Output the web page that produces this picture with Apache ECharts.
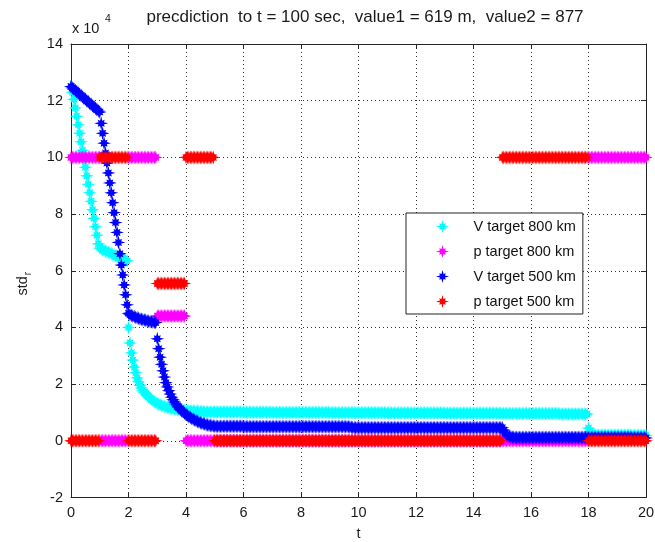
<!DOCTYPE html>
<html><head><meta charset="utf-8">
<script src="https://cdn.jsdelivr.net/npm/echarts@6/dist/echarts.min.js"></script>
<style>html,body{margin:0;padding:0;background:#fff}#c{width:655px;height:542px}</style>
</head><body><div id="c"></div>
<script>
// ---- chart data (values in units of 10^4), sampled every 0.05 s, one line per second ----
const titleText = 'precdiction  to t = 100 sec,  value1 = 619 m,  value2 = 877';
const seriesNames = ['V target 800 km', 'p target 800 km', 'V target 500 km', 'p target 500 km'];
const xTicks = [0, 2, 4, 6, 8, 10, 12, 14, 16, 18, 20];
const yTicks = [-2, 0, 2, 4, 6, 8, 10, 12, 14];
const dt = 0.05;

const vTarget800 = [
12.5,12.3,12.05,11.75,11.45,11.15,10.85,10.55,10.25,9.95,9.65,9.35,9.05,8.75,8.45,8.15,7.85,7.55,7.25,6.95,
6.8,6.77,6.75,6.72,6.7,6.68,6.65,6.63,6.6,6.58,6.55,6.53,6.5,6.48,6.46,6.44,6.42,6.4,6.37,6.35,
4.0,3.45,3.1,2.85,2.6,2.4,2.22,2.08,1.96,1.86,1.78,1.71,1.65,1.6,1.55,1.5,1.46,1.42,1.38,1.35,
1.32,1.3,1.27,1.25,1.23,1.21,1.2,1.18,1.17,1.15,1.14,1.13,1.12,1.11,1.1,1.1,1.09,1.08,1.08,1.07,
1.07,1.06,1.06,1.05,1.05,1.05,1.04,1.04,1.04,1.03,1.03,1.03,1.03,1.02,1.02,1.02,1.02,1.02,1.02,1.02,
1.02,1.02,1.02,1.02,1.02,1.02,1.02,1.02,1.02,1.02,1.02,1.02,1.02,1.02,1.02,1.02,1.02,1.02,1.02,1.02,
1.01,1.01,1.01,1.01,1.01,1.01,1.01,1.01,1.01,1.01,1.01,1.01,1.01,1.01,1.01,1.01,1.01,1.01,1.01,1.01,
1.0,1.0,1.0,1.0,1.0,1.0,1.0,1.0,1.0,1.0,1.0,1.0,1.0,1.0,1.0,1.0,1.0,1.0,1.0,1.0,
1.0,1.0,1.0,1.0,1.0,1.0,1.0,1.0,1.0,1.0,1.0,1.0,1.0,1.0,1.0,1.0,1.0,1.0,1.0,1.0,
0.99,0.99,0.99,0.99,0.99,0.99,0.99,0.99,0.99,0.99,0.99,0.99,0.99,0.99,0.99,0.99,0.99,0.99,0.99,0.99,
0.99,0.99,0.99,0.99,0.99,0.99,0.99,0.99,0.99,0.99,0.99,0.99,0.99,0.99,0.99,0.99,0.99,0.99,0.99,0.99,
0.98,0.98,0.98,0.98,0.98,0.98,0.98,0.98,0.98,0.98,0.98,0.98,0.98,0.98,0.98,0.98,0.98,0.98,0.98,0.98,
0.98,0.98,0.98,0.98,0.98,0.98,0.98,0.98,0.98,0.98,0.98,0.98,0.98,0.98,0.98,0.98,0.98,0.98,0.98,0.98,
0.97,0.97,0.97,0.97,0.97,0.97,0.97,0.97,0.97,0.97,0.97,0.97,0.97,0.97,0.97,0.97,0.97,0.97,0.97,0.97,
0.97,0.97,0.97,0.97,0.97,0.97,0.97,0.97,0.97,0.97,0.97,0.97,0.97,0.97,0.97,0.97,0.97,0.97,0.97,0.97,
0.96,0.96,0.96,0.96,0.96,0.96,0.96,0.96,0.96,0.96,0.96,0.96,0.96,0.96,0.96,0.96,0.96,0.96,0.96,0.96,
0.96,0.96,0.96,0.96,0.96,0.96,0.96,0.96,0.96,0.96,0.96,0.96,0.96,0.96,0.96,0.96,0.96,0.96,0.96,0.96,
0.95,0.95,0.95,0.95,0.95,0.95,0.95,0.95,0.95,0.95,0.95,0.95,0.95,0.95,0.95,0.95,0.95,0.95,0.95,0.95,
0.45,0.32,0.26,0.23,0.21,0.2,0.2,0.2,0.2,0.2,0.2,0.2,0.2,0.2,0.2,0.2,0.2,0.2,0.2,0.2,
0.2,0.2,0.2,0.2,0.2,0.2,0.2,0.2,0.2,0.2,0.19,0.19,0.19,0.19,0.19,0.19,0.19,0.19,0.19,0.19,
0.19
];

const pTarget800 = [
10,10,10,10,10,10,10,10,10,10,10,10,10,10,10,10,10,10,10,10,
0,0,0,0,0,0,0,0,0,0,0,0,0,0,0,0,0,0,0,0,
10,10,10,10,10,10,10,10,10,10,10,10,10,10,10,10,10,10,10,10,
4.4,4.4,4.4,4.4,4.4,4.4,4.4,4.4,4.4,4.4,4.4,4.4,4.4,4.4,4.4,4.4,4.4,4.4,4.4,4.4,
0,0,0,0,0,0,0,0,0,0,0,0,0,0,0,0,0,0,0,0,
0,0,0,0,0,0,0,0,0,0,0,0,0,0,0,0,0,0,0,0,
0,0,0,0,0,0,0,0,0,0,0,0,0,0,0,0,0,0,0,0,
0,0,0,0,0,0,0,0,0,0,0,0,0,0,0,0,0,0,0,0,
0,0,0,0,0,0,0,0,0,0,0,0,0,0,0,0,0,0,0,0,
0,0,0,0,0,0,0,0,0,0,0,0,0,0,0,0,0,0,0,0,
0,0,0,0,0,0,0,0,0,0,0,0,0,0,0,0,0,0,0,0,
0,0,0,0,0,0,0,0,0,0,0,0,0,0,0,0,0,0,0,0,
0,0,0,0,0,0,0,0,0,0,0,0,0,0,0,0,0,0,0,0,
0,0,0,0,0,0,0,0,0,0,0,0,0,0,0,0,0,0,0,0,
0,0,0,0,0,0,0,0,0,0,0,0,0,0,0,0,0,0,0,0,
0,0,0,0,0,0,0,0,0,0,0,0,0,0,0,0,0,0,0,0,
0,0,0,0,0,0,0,0,0,0,0,0,0,0,0,0,0,0,0,0,
0,0,0,0,0,0,0,0,0,0,0,0,0,0,0,0,0,0,0,0,
10,10,10,10,10,10,10,10,10,10,10,10,10,10,10,10,10,10,10,10,
10,10,10,10,10,10,10,10,10,10,10,10,10,10,10,10,10,10,10,10,
10
];

const vTarget500 = [
12.5,12.45,12.41,12.36,12.32,12.27,12.23,12.18,12.14,12.09,12.05,12.0,11.96,11.91,11.87,11.82,11.78,11.73,11.69,11.64,
11.6,11.2,10.85,10.5,10.15,9.8,9.45,9.1,8.75,8.4,8.05,7.7,7.35,7.0,6.6,6.2,5.85,5.5,5.15,4.8,
4.5,4.45,4.42,4.4,4.38,4.36,4.34,4.32,4.3,4.29,4.27,4.26,4.25,4.23,4.22,4.21,4.2,4.19,4.18,4.17,
3.6,3.25,2.95,2.7,2.47,2.25,2.05,1.9,1.77,1.65,1.54,1.45,1.37,1.3,1.23,1.17,1.11,1.06,1.02,0.97,
0.93,0.89,0.85,0.82,0.79,0.76,0.73,0.71,0.68,0.66,0.64,0.62,0.6,0.59,0.57,0.56,0.55,0.54,0.53,0.52,
0.51,0.51,0.51,0.51,0.51,0.51,0.51,0.51,0.51,0.51,0.51,0.51,0.51,0.51,0.51,0.51,0.51,0.51,0.51,0.51,
0.5,0.5,0.5,0.5,0.5,0.5,0.5,0.5,0.5,0.5,0.5,0.5,0.5,0.5,0.5,0.5,0.5,0.5,0.5,0.5,
0.5,0.5,0.5,0.5,0.5,0.5,0.5,0.5,0.5,0.5,0.5,0.5,0.5,0.5,0.5,0.5,0.5,0.5,0.5,0.5,
0.5,0.5,0.5,0.5,0.5,0.5,0.5,0.5,0.5,0.5,0.5,0.5,0.5,0.5,0.5,0.5,0.5,0.5,0.5,0.5,
0.5,0.5,0.5,0.5,0.5,0.5,0.5,0.5,0.5,0.5,0.5,0.5,0.5,0.5,0.49,0.48,0.47,0.46,0.46,0.46,
0.46,0.46,0.46,0.46,0.46,0.46,0.46,0.46,0.46,0.46,0.46,0.46,0.46,0.46,0.46,0.46,0.46,0.46,0.46,0.46,
0.46,0.46,0.46,0.46,0.46,0.46,0.46,0.46,0.46,0.46,0.46,0.46,0.46,0.46,0.46,0.46,0.46,0.46,0.46,0.46,
0.46,0.46,0.46,0.46,0.46,0.46,0.46,0.46,0.46,0.46,0.46,0.46,0.46,0.46,0.46,0.46,0.46,0.46,0.46,0.46,
0.46,0.46,0.46,0.46,0.46,0.46,0.46,0.46,0.46,0.46,0.46,0.46,0.46,0.46,0.46,0.46,0.46,0.46,0.46,0.46,
0.46,0.46,0.46,0.46,0.46,0.46,0.46,0.46,0.46,0.46,0.46,0.46,0.46,0.46,0.46,0.46,0.46,0.46,0.46,0.46,
0.46,0.38,0.28,0.21,0.17,0.15,0.14,0.13,0.13,0.12,0.12,0.12,0.12,0.12,0.12,0.12,0.12,0.12,0.12,0.12,
0.12,0.12,0.12,0.12,0.12,0.12,0.12,0.12,0.12,0.12,0.12,0.12,0.12,0.12,0.12,0.12,0.12,0.12,0.12,0.12,
0.12,0.12,0.12,0.12,0.12,0.12,0.12,0.12,0.12,0.12,0.12,0.12,0.12,0.12,0.12,0.12,0.12,0.12,0.12,0.12,
0.11,0.11,0.11,0.11,0.11,0.11,0.11,0.11,0.11,0.11,0.11,0.11,0.11,0.11,0.11,0.11,0.11,0.11,0.11,0.11,
0.11,0.11,0.11,0.11,0.11,0.11,0.11,0.11,0.11,0.11,0.1,0.1,0.1,0.1,0.1,0.1,0.1,0.1,0.1,0.1,
0.1
];

const pTarget500 = [
0,0,0,0,0,0,0,0,0,0,0,0,0,0,0,0,0,0,0,0,
10,10,10,10,10,10,10,10,10,10,10,10,10,10,10,10,10,10,10,10,
0,0,0,0,0,0,0,0,0,0,0,0,0,0,0,0,0,0,0,0,
5.55,5.55,5.55,5.55,5.55,5.55,5.55,5.55,5.55,5.55,5.55,5.55,5.55,5.55,5.55,5.55,5.55,5.55,5.55,5.55,
10,10,10,10,10,10,10,10,10,10,10,10,10,10,10,10,10,10,10,10,
0,0,0,0,0,0,0,0,0,0,0,0,0,0,0,0,0,0,0,0,
0,0,0,0,0,0,0,0,0,0,0,0,0,0,0,0,0,0,0,0,
0,0,0,0,0,0,0,0,0,0,0,0,0,0,0,0,0,0,0,0,
0,0,0,0,0,0,0,0,0,0,0,0,0,0,0,0,0,0,0,0,
0,0,0,0,0,0,0,0,0,0,0,0,0,0,0,0,0,0,0,0,
0,0,0,0,0,0,0,0,0,0,0,0,0,0,0,0,0,0,0,0,
0,0,0,0,0,0,0,0,0,0,0,0,0,0,0,0,0,0,0,0,
0,0,0,0,0,0,0,0,0,0,0,0,0,0,0,0,0,0,0,0,
0,0,0,0,0,0,0,0,0,0,0,0,0,0,0,0,0,0,0,0,
0,0,0,0,0,0,0,0,0,0,0,0,0,0,0,0,0,0,0,0,
10,10,10,10,10,10,10,10,10,10,10,10,10,10,10,10,10,10,10,10,
10,10,10,10,10,10,10,10,10,10,10,10,10,10,10,10,10,10,10,10,
10,10,10,10,10,10,10,10,10,10,10,10,10,10,10,10,10,10,10,10,
0,0,0,0,0,0,0,0,0,0,0,0,0,0,0,0,0,0,0,0,
0,0,0,0,0,0,0,0,0,0,0,0,0,0,0,0,0,0,0,0,
0
];

// ---- rendering ----
const FONT = '"Liberation Sans", Arial, Helvetica, sans-serif';
const colors = ['#00ffff', '#ff00ff', '#0000ff', '#ff0000'];
const axisColor = '#262626';
const star = 'path://M10,0L3.9,1.6L5,5L1.6,3.9L0,10L-1.6,3.9L-5,5L-3.9,1.6L-10,0L-3.9,-1.6L-5,-5L-1.6,-3.9L0,-10L1.6,-3.9L5,-5L3.9,-1.6Z';
const seriesValues = [vTarget800, pTarget800, vTarget500, pTarget500];

function pairs(arr) { return arr.map((v, i) => [+(i * dt).toFixed(2), v]); }

function axisX(pos, main) {
  return {
    type: 'value', min: xTicks[0], max: xTicks[xTicks.length - 1], interval: 2, position: pos,
    axisLine: { show: true, onZero: false, lineStyle: { color: axisColor, width: 1 } },
    axisTick: { show: true, inside: true, length: 5, lineStyle: { color: axisColor } },
    axisLabel: { show: main, color: '#1a1a1a', fontSize: 14.5, fontFamily: FONT, margin: 8 },
    splitLine: { show: main, lineStyle: { color: '#333', type: [1, 3], width: 1 } },
    name: main ? 't' : '', nameLocation: 'middle', nameGap: 29,
    nameTextStyle: { color: '#1a1a1a', fontSize: 14.5, fontFamily: FONT }
  };
}
function axisY(pos, main) {
  return {
    type: 'value', min: yTicks[0], max: yTicks[yTicks.length - 1], interval: 2, position: pos,
    axisLine: { show: true, onZero: false, lineStyle: { color: axisColor, width: 1 } },
    axisTick: { show: true, inside: true, length: 5, lineStyle: { color: axisColor } },
    axisLabel: { show: main, color: '#1a1a1a', fontSize: 14.5, fontFamily: FONT, margin: 8 },
    splitLine: { show: main, lineStyle: { color: '#333', type: [1, 3], width: 1 } },
    name: main ? '{a|std}{b|r}' : '', nameLocation: 'middle', nameRotate: 90, nameGap: 38,
    nameTextStyle: {
      color: '#1a1a1a', fontFamily: FONT, padding: [0, 26, 0, 0],
      rich: {
        a: { fontSize: 14.5, fontFamily: FONT, color: '#1a1a1a', lineHeight: 18, verticalAlign: 'top' },
        b: { fontSize: 10, fontFamily: FONT, color: '#1a1a1a', lineHeight: 12, padding: [9, 0, 0, 1], verticalAlign: 'bottom' }
      }
    }
  };
}

const chart = echarts.init(document.getElementById('c'), null, { renderer: 'canvas' });
chart.setOption({
  animation: false,
  backgroundColor: '#fff',
  grid: { left: 71, right: 9, top: 44, bottom: 44.5, containLabel: false, outerBoundsMode: 'none' },
  xAxis: [axisX('bottom', true), axisX('top', false)],
  yAxis: [axisY('left', true), axisY('right', false)],
  legend: {
    orient: 'vertical', left: 406, top: 213, selectedMode: false,
    backgroundColor: '#fff', borderColor: '#222', borderWidth: 1,
    padding: [5, 7, 4, 30], itemGap: 8, itemWidth: 52, itemHeight: 13,
    textStyle: { fontSize: 14.5, color: '#111', fontFamily: FONT, lineHeight: 17 },
    data: seriesNames.map(n => ({ name: n, icon: star }))
  },
  graphic: [
    { type: 'text', x: 365, y: 17, style: { text: titleText, fontSize: 17, fontFamily: FONT, fill: '#1a1a1a', textAlign: 'center', textVerticalAlign: 'middle' } },
    { type: 'text', x: 72, y: 29, style: { text: 'x 10', fontSize: 14.5, fontFamily: FONT, fill: '#1a1a1a', textAlign: 'left', textVerticalAlign: 'middle' } },
    { type: 'text', x: 105, y: 19, style: { text: '4', fontSize: 10.5, fontFamily: FONT, fill: '#1a1a1a', textAlign: 'left', textVerticalAlign: 'middle' } }
  ],
  series: seriesNames.map((name, k) => ({
    name, type: 'scatter', xAxisIndex: 0, yAxisIndex: 0,
    data: pairs(seriesValues[k]),
    symbol: star, symbolSize: 14, clip: false,
    itemStyle: { color: colors[k], opacity: 1 },
    emphasis: { disabled: true },
    z: 2 + k
  }))
});
</script></body></html>
